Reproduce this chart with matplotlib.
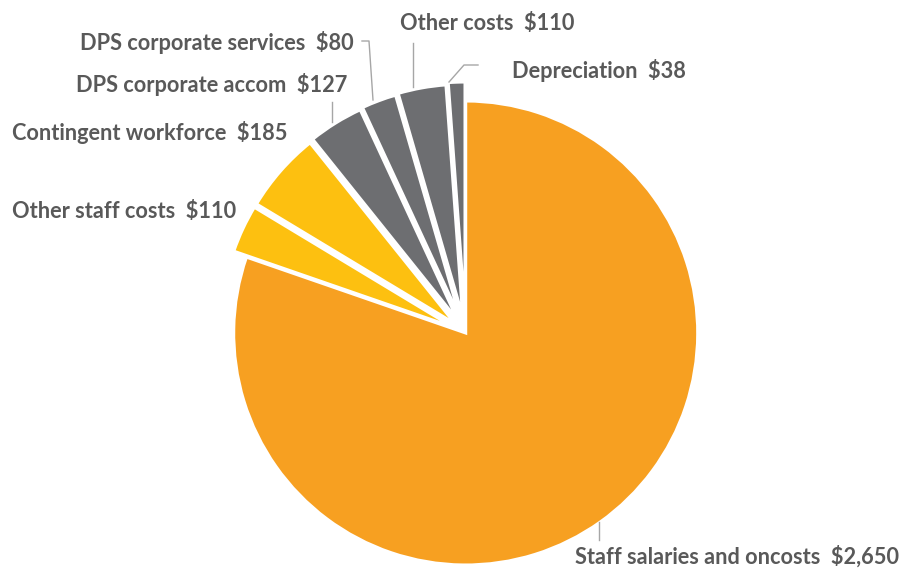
import matplotlib.pyplot as plt

labels = ["Staff salaries and oncosts", "Other staff costs", "Contingent workforce",
          "DPS corporate accom", "DPS corporate services", "Other costs", "Depreciation"]
values = [2650, 110, 185, 127, 80, 110, 38]
colors = ["#F7A021", "#FDC010", "#FDC010", "#6D6E71", "#6D6E71", "#6D6E71", "#6D6E71"]
explode_px = [0, 14, 14, 15, 16, 17, 19]

W, H = 905, 570
fig = plt.figure(figsize=(W / 100, H / 100), dpi=100)
ax = fig.add_axes([0, 0, 1, 1])

cx, cy, r = 465.7, H - 333, 232
# matplotlib's explode offset is in data units here
ax.pie(values, colors=colors, startangle=90, counterclock=False,
       center=(cx, cy), radius=r, explode=explode_px,
       wedgeprops=dict(edgecolor="white", linewidth=2.2), frame=True)
ax.set_xlim(0, W)
ax.set_ylim(0, H)
ax.axis("off")

txt = dict(fontsize=15.7, fontweight="bold", color="#595959", family="Lato", va="center")

# label positions in pixels (left edge, center y)
pos = {
    0: (575, 557),
    1: (12, 212),
    2: (12, 132),
    3: (76, 85),
    4: (80, 43),
    5: (400, 24),
    6: (512, 70),
}
for i, v in enumerate(values):
    x, y = pos[i]
    ax.text(x, H - y, f"{labels[i]}  ${v:,}", ha="left", **txt)

# leader lines
lc = dict(color="#A6A6A6", lw=1)
leaders = [
    [(599, 522), (599, 540)],
    [(332, 122), (332, 102)],
    [(373, 100), (369, 41), (362, 41)],
    [(413, 87), (413, 43)],
    [(449, 82), (464, 65), (478, 65)],
]
for pts in leaders:
    ax.plot([p[0] for p in pts], [H - p[1] for p in pts], **lc)

fig.savefig("out.png", dpi=100, facecolor="white")
